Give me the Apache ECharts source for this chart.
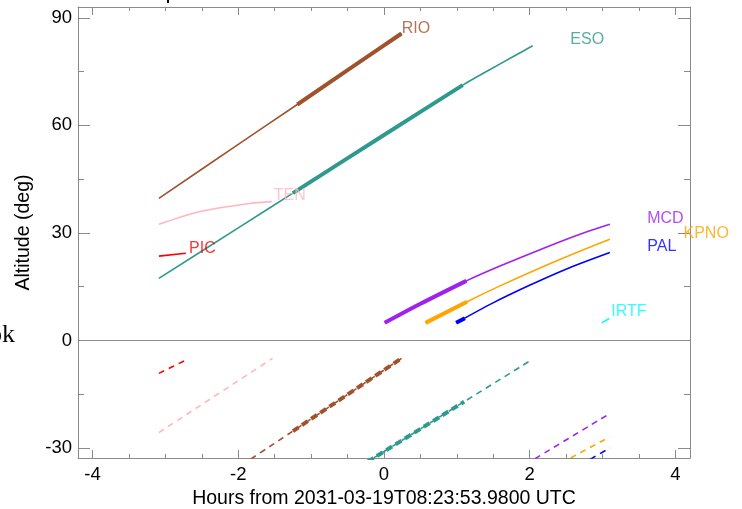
<!DOCTYPE html>
<html><head><meta charset="utf-8">
<script src="https://cdn.jsdelivr.net/npm/echarts@6/dist/echarts.min.js"></script>
<style>html,body{margin:0;padding:0;background:#fff}#c{width:742px;height:509px}</style>
</head><body><div id="c"></div>
<script>
// ---------- data (hours from reference time, altitude in deg) ----------
const RIO_hours = [-3.09, -2, -1.19, 0, 0.24];
const RIO_alt   = [39.6, 54.7, 65.8, 82.3, 85.6];
const RIO_thickHours = [-1.19, 0, 0.24];
const RIO_thickAlt   = [65.8, 82.3, 85.6];
const RIO_lowHours = [-3.09, -1.25, 0.24];
const RIO_low      = [-50.0, -25.3, -5.0];
const RIO_lowThickHours = [-1.25, 0.24];
const RIO_lowThick      = [-25.3, -5.0];

const ESO_hours = [-3.09, -2, -1.25, 0, 1.08, 1.45, 1.75, 2.04];
const ESO_alt   = [17.3, 31.4, 41.1, 57.3, 71.2, 75.5, 78.9, 82.2];
const ESO_thickHours = [-1.25, 0, 1.08];
const ESO_thickAlt   = [41.1, 57.3, 71.2];
const ESO_lowHours = [-3.09, -0.15, 1.1, 2.02];
const ESO_low      = [-70.0, -32.9, -17.1, -5.5];
const ESO_lowThickHours = [-1.25, -0.15, 1.1];
const ESO_lowThick      = [-46.8, -32.9, -17.1];

const TEN_hours = [-3.09, -2.53, -1.84, -1.54];
const TEN_alt   = [32.4, 35.9, 38.2, 38.7];
const TEN_lowHours = [-3.09, -1.53];
const TEN_low      = [-25.7, -5.0];

const PIC_hours = [-3.09, -2.72];
const PIC_alt   = [23.5, 24.3];
const PIC_lowHours = [-3.09, -2.72];
const PIC_low      = [-9.2, -5.5];

const MCD_hours = [0.01, 0.5, 1.13, 1.6, 2.2, 2.7, 3.10];
const MCD_alt   = [4.9, 10.2, 16.6, 20.8, 25.8, 29.7, 32.4];
const MCD_thickHours = [0.01, 0.5, 1.13];
const MCD_thickAlt   = [4.9, 10.2, 16.6];
const MCD_lowHours = [0.01, 2.08, 3.10];
const MCD_low      = [-58.4, -32.9, -20.4];

const KPNO_hours = [0.57, 1.14, 1.57, 2.07, 2.57, 3.10];
const KPNO_alt   = [4.9, 10.8, 15.0, 19.6, 23.9, 28.2];
const KPNO_thickHours = [0.57, 1.14];
const KPNO_thickAlt   = [4.9, 10.8];
const KPNO_lowHours = [0.57, 2.55, 3.10];
const KPNO_low      = [-54.7, -32.9, -26.9];

const PAL_hours = [0.99, 1.49, 1.99, 2.49, 3.10];
const PAL_alt   = [4.9, 10.4, 15.3, 19.8, 24.5];
const PAL_thickHours = [0.99, 1.11];
const PAL_thickAlt   = [4.9, 6.2];
const PAL_lowHours = [0.99, 2.85, 3.10];
const PAL_low      = [-54.1, -32.9, -30.0];

const IRTF_hours = [2.99, 3.09];
const IRTF_alt   = [4.9, 6.1];

const siteNames = ['RIO', 'ESO', 'TEN', 'PIC', 'MCD', 'KPNO', 'PAL', 'IRTF'];
const xTickValues = [-4, -2, 0, 2, 4];
const xMinorTickValues = [-3.5, -3, -2.5, -1.5, -1, -0.5, 0.5, 1, 1.5, 2.5, 3, 3.5];
const yTickValues = [-30, 0, 30, 60, 90];
const yMinorTickValues = [-15, 15, 45, 75];
const xTitle = 'Hours from 2031-03-19T08:23:53.9800 UTC';
const yTitle = 'Altitude (deg)';

// ---------- styling / placement (not data) ----------
const colors = {
  RIO: '#A0522D', ESO: '#2E9A8E', TEN: '#FFB6C1', PIC: '#FF0000',
  MCD: '#A020F0', KPNO: '#FFA500', PAL: '#0000FF', IRTF: '#00FFFF'
};
const labelAnchors = {
  RIO: [0.243, 87.0], ESO: [2.557, 83.8], TEN: [-1.513, 40.3], PIC: [-2.675, 25.65],
  MCD: [3.613, 33.96], KPNO: [4.111, 29.84], PAL: [3.613, 26.16], IRTF: [3.119, 7.95]
};
const THIN = 1.6, THICK = 4;
const AXIS_COLOR = '#8a8a8a';
const FONT = '"Liberation Sans", Arial, Helvetica, sans-serif';
const X_RANGE = [-4.2, 4.2];
const Y_RANGE = [-32.8, 93];

function pairs(h, v) { return h.map((x, i) => [x, v[i]]); }
function lineSeries(h, v, color, width, dashed, z) {
  return {
    type: 'line', data: pairs(h, v), symbol: 'none', showSymbol: false,
    xAxisIndex: 0, yAxisIndex: 0,
    smooth: 0.3, clip: true, silent: true, animation: false, z: z || 2,
    lineStyle: { color: color, width: width, type: dashed ? (width > 2 ? [7, 4] : [6, 5]) : 'solid', cap: 'butt' }
  };
}

const series = [];
const sets = {
  RIO: [RIO_hours, RIO_alt, RIO_thickHours, RIO_thickAlt, RIO_lowHours, RIO_low, RIO_lowThickHours, RIO_lowThick],
  ESO: [ESO_hours, ESO_alt, ESO_thickHours, ESO_thickAlt, ESO_lowHours, ESO_low, ESO_lowThickHours, ESO_lowThick],
  TEN: [TEN_hours, TEN_alt, null, null, TEN_lowHours, TEN_low, null, null],
  PIC: [PIC_hours, PIC_alt, null, null, PIC_lowHours, PIC_low, null, null],
  MCD: [MCD_hours, MCD_alt, MCD_thickHours, MCD_thickAlt, MCD_lowHours, MCD_low, null, null],
  KPNO: [KPNO_hours, KPNO_alt, KPNO_thickHours, KPNO_thickAlt, KPNO_lowHours, KPNO_low, null, null],
  PAL: [PAL_hours, PAL_alt, PAL_thickHours, PAL_thickAlt, PAL_lowHours, PAL_low, null, null],
  IRTF: [IRTF_hours, IRTF_alt, null, null, null, null, null, null]
};
siteNames.forEach(name => {
  const s = sets[name], c = colors[name];
  series.push(lineSeries(s[0], s[1], c, THIN, false, 2));
  if (s[2]) series.push(lineSeries(s[2], s[3], c, THICK, false, 3));
  if (s[4]) series.push(lineSeries(s[4], s[5], c, THIN, true, 2));
  if (s[6]) series.push(lineSeries(s[6], s[7], c, THICK, true, 3));
});
// zero line
series[0].markLine = {
  silent: true, symbol: ['none', 'none'], label: { show: false }, animation: false,
  lineStyle: { color: AXIS_COLOR, width: 1, type: 'solid' },
  data: [{ yAxis: 0 }]
};
// site labels
series.push({
  type: 'scatter', symbolSize: 0, silent: true, animation: false, z: 5,
  xAxisIndex: 0, yAxisIndex: 0,
  data: siteNames.map(n => ({
    name: n, value: labelAnchors[n],
    label: { show: true, position: 'right', distance: 0, formatter: n,
      color: colors[n], fontSize: 16, fontFamily: FONT }
  }))
});

function xAxisDef(grid, pos, ticks, len, showLine, label) {
  return {
    type: 'value', gridIndex: grid, position: pos, min: X_RANGE[0], max: X_RANGE[1],
    axisLine: { show: showLine, onZero: false, lineStyle: { color: AXIS_COLOR, width: 1 } },
    axisTick: { show: true, inside: true, length: len, customValues: ticks, lineStyle: { color: AXIS_COLOR } },
    axisLabel: label ? { show: true, customValues: ticks, margin: 7, color: '#000', fontSize: 18.5, fontFamily: FONT,
      formatter: v => String(Math.round(v)) } : { show: false },
    splitLine: { show: false }, minorTick: { show: false }
  };
}
function yAxisDef(grid, pos, ticks, len, showLine, label) {
  return {
    type: 'value', gridIndex: grid, position: pos, min: Y_RANGE[0], max: Y_RANGE[1],
    axisLine: { show: showLine, onZero: false, lineStyle: { color: AXIS_COLOR, width: 1 } },
    axisTick: { show: true, inside: true, length: len, customValues: ticks, lineStyle: { color: AXIS_COLOR } },
    axisLabel: label ? { show: true, customValues: ticks, margin: 6, color: '#000', fontSize: 18.5, fontFamily: FONT,
      formatter: v => String(Math.round(v)) } : { show: false },
    splitLine: { show: false }, minorTick: { show: false }
  };
}
const xMain = xAxisDef(0, 'bottom', xTickValues, 8, true, true);
Object.assign(xMain, { name: xTitle, nameLocation: 'middle', nameGap: 30,
  nameTextStyle: { color: '#000', fontSize: 19.5, fontFamily: FONT } });
const yMain = yAxisDef(0, 'left', yTickValues, 12, true, true);
Object.assign(yMain, { name: yTitle, nameLocation: 'middle', nameGap: 44, nameRotate: 90,
  nameTextStyle: { color: '#000', fontSize: 19.5, fontFamily: FONT } });

const gridRect = { left: 78, right: 52, top: 7, bottom: 51, containLabel: false, outerBoundsMode: 'none' };
const option = {
  backgroundColor: '#fff',
  animation: false,
  grid: [Object.assign({}, gridRect), Object.assign({}, gridRect)],
  xAxis: [
    xMain,
    xAxisDef(0, 'top', xTickValues, 8, true, false),
    xAxisDef(1, 'bottom', xMinorTickValues, 4, false, false),
    xAxisDef(1, 'top', xMinorTickValues, 4, false, false)
  ],
  yAxis: [
    yMain,
    yAxisDef(0, 'right', yTickValues, 12, true, false),
    yAxisDef(1, 'left', yMinorTickValues, 6, false, false),
    yAxisDef(1, 'right', yMinorTickValues, 6, false, false)
  ],
  graphic: [
    { type: 'text', left: -11, top: 322, silent: true,
      style: { text: 'ok', fill: '#000', font: '26px "Liberation Serif", "DejaVu Serif", serif' } },
    { type: 'rect', left: 167, top: 0, silent: true, shape: { width: 2, height: 3 }, style: { fill: '#000' } }
  ],
  series: series
};
const chart = echarts.init(document.getElementById('c'), null, { renderer: 'canvas' });
chart.setOption(option);
</script></body></html>
